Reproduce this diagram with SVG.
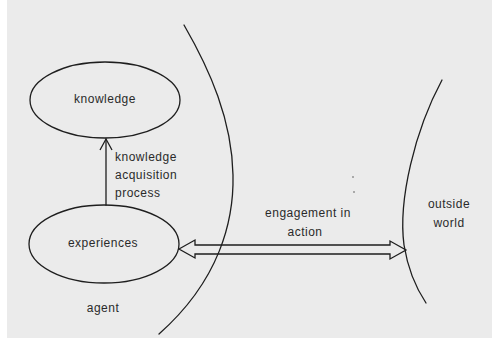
<svg xmlns="http://www.w3.org/2000/svg" width="492" height="341" viewBox="0 0 492 341">
  <style>
    .ink { fill: none; stroke: #1e1e1e; stroke-width: 1.3; stroke-linecap: round; stroke-linejoin: miter; }
    .lbl { font-family: "Liberation Sans", Arial, sans-serif; font-size: 12px; letter-spacing: 0.5px; fill: #2a2a2a; text-anchor: middle; dominant-baseline: central; }
    .side { text-anchor: start; }
  </style>
  <defs>
    <marker id="open-head" viewBox="0 0 14 14" refX="12" refY="7" markerWidth="14" markerHeight="14" markerUnits="userSpaceOnUse" orient="auto">
      <path d="M1,1 L12,7 L1,13" fill="none" stroke="#1e1e1e" stroke-width="1.3"/>
    </marker>
  </defs>

  <!-- paper -->
  <rect x="0" y="0" width="492" height="341" fill="#ffffff"/>
  <rect x="7" y="0" width="485" height="338" fill="#ebebeb"/>

  <!-- boundary of the agent -->
  <g id="agent-boundary">
    <path class="ink" d="M184,25 C210,70 232,120 233,175 C234,220 220,280 159,334"/>
    <text class="lbl" x="103" y="308">agent</text>
  </g>

  <!-- boundary of the outside world -->
  <g id="world-boundary">
    <path class="ink" d="M442,80 C415,130 398,200 404,245 C408,270 416,288 426,303"/>
    <text class="lbl" x="449" y="204">outside</text>
    <text class="lbl" x="449" y="223">world</text>
  </g>

  <g id="knowledge">
    <ellipse class="ink" cx="105" cy="100" rx="75" ry="38"/>
    <text class="lbl" x="105" y="99">knowledge</text>
  </g>

  <g id="experiences">
    <ellipse class="ink" cx="104" cy="244" rx="75" ry="39"/>
    <text class="lbl" x="103" y="243">experiences</text>
  </g>

  <g id="connectors">
    <!-- knowledge acquisition process -->
    <line class="ink" x1="106" y1="205" x2="106" y2="139" marker-end="url(#open-head)"/>
    <text class="lbl side" x="115" y="157">knowledge</text>
    <text class="lbl side" x="115" y="175">acquisition</text>
    <text class="lbl side" x="115" y="193">process</text>

    <!-- engagement in action: hollow double arrow -->
    <path class="ink" d="M179,249 L195,240 L195,245 L390,245 L390,241 L406,250 L390,259 L390,254 L195,254 L195,258 Z"/>
    <text class="lbl" x="308" y="213">engagement in</text>
    <text class="lbl" x="305" y="232">action</text>
  </g>

  <!-- specks on the sheet -->
  <circle cx="353" cy="177" r="0.8" fill="#555"/>
  <circle cx="354" cy="192" r="0.8" fill="#555"/>
</svg>
